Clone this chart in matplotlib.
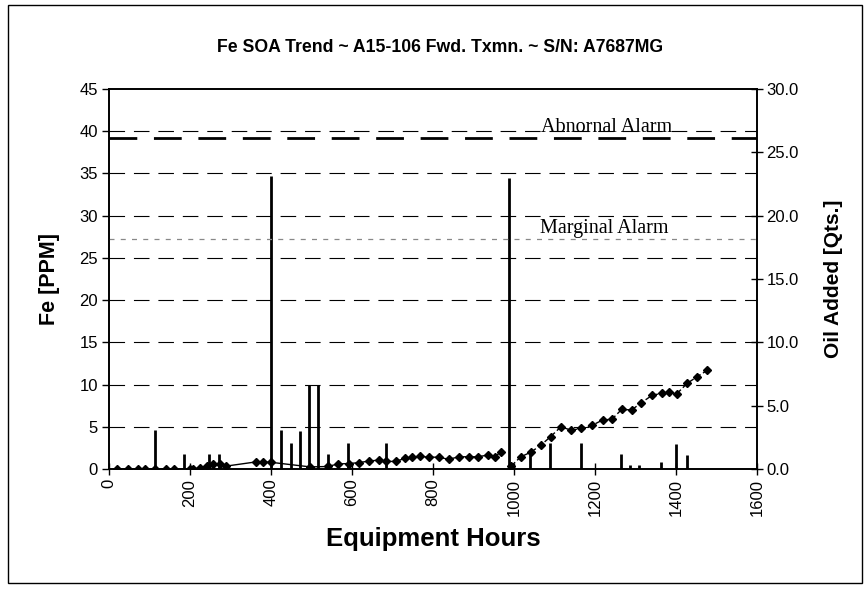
import matplotlib
matplotlib.use("Agg")
import matplotlib.pyplot as plt
from matplotlib import font_manager as fm
from matplotlib.patches import Rectangle

# ---------------- data ----------------
fe_hours_1 = [20, 47, 72, 90, 113, 141, 160, 199, 208, 224, 241, 257, 274, 290,
              364, 380, 399, 497, 541, 565, 592, 617, 642, 666, 685, 708, 730,
              749, 767, 790, 814, 839, 864, 888, 911, 935, 952, 968]
fe_ppm_1 = [0, 0, 0, 0, 0, 0, 0, 0, 0, 0.1, 0.35, 0.6, 0.65, 0.35,
            0.85, 0.8, 0.8, 0.25, 0.3, 0.6, 0.65, 0.75, 0.95, 1.05, 0.9, 0.9, 1.25,
            1.4, 1.5, 1.4, 1.4, 1.15, 1.45, 1.45, 1.45, 1.65, 1.4, 2.05]

fe_hours_2 = [993, 1017, 1042, 1067, 1091, 1116, 1141, 1165, 1194, 1219, 1242,
              1266, 1291, 1313, 1342, 1365, 1383, 1402, 1428, 1453, 1478]
fe_ppm_2 = [0.35, 1.45, 2.0, 2.85, 3.85, 5.0, 4.6, 4.8, 5.2, 5.8, 5.9,
            7.05, 7.0, 7.8, 8.75, 8.95, 9.1, 8.9, 10.15, 10.95, 11.7]

oil_hours = [113, 185, 247, 271, 399, 424, 449, 471, 493, 515, 540, 589, 685,
             989, 1040, 1090, 1166, 1265, 1287, 1309, 1363, 1400, 1428]
oil_qts = [3.1, 1.2, 1.2, 1.2, 23.1, 3.1, 2.05, 3.0, 6.6, 6.6, 1.2, 2.05, 2.05,
           23.0, 1.2, 2.05, 2.05, 1.2, 0.3, 0.3, 0.55, 2.0, 1.1]

abnormal_alarm = 39.2
marginal_alarm = 27.2

title = "Fe SOA Trend ~ A15-106 Fwd. Txmn. ~ S/N: A7687MG"
x_label = "Equipment Hours"
y_label = "Fe [PPM]"
y2_label = "Oil Added [Qts.]"
x_ticks = list(range(0, 1601, 200))
y_ticks = list(range(0, 46, 5))
y2_ticks = [0, 5, 10, 15, 20, 25, 30]

# ---------------- fonts ----------------
names = {f.name for f in fm.fontManager.ttflist}
sans = "Liberation Sans" if "Liberation Sans" in names else "DejaVu Sans"
serif = "Liberation Serif" if "Liberation Serif" in names else "DejaVu Serif"
plt.rcParams["font.family"] = [sans, "DejaVu Sans"]

fig = plt.figure(figsize=(8.68, 5.89), dpi=100)
ax = fig.add_axes([0.1256, 0.2037, 0.872 - 0.1256, 0.849 - 0.2037])
ax2 = ax.twinx()

# grid lines
for v in y_ticks[1:-1]:
    ax.axhline(v, color="black", lw=0.8, ls=(0, (14, 8)), zorder=1)

# alarms
ax.axhline(abnormal_alarm, color="black", lw=2.0, ls=(0, (10, 6)), zorder=2)
ax.axhline(marginal_alarm, color="#888888", lw=0.9, ls=(0, (4, 5)), zorder=2)
ax.text(1228, 39.85, "Abnornal Alarm", family=serif, fontsize=14.5,
        ha="center", va="baseline", zorder=3)
ax.text(1224, 28.0, "Marginal Alarm", family=serif, fontsize=14.5,
        ha="center", va="baseline", zorder=3)

# Fe series
ax.plot(fe_hours_1, fe_ppm_1, color="black", lw=1.0, marker="D", ms=4, zorder=4)
ax.plot(fe_hours_2, fe_ppm_2, color="black", lw=1.0, ls=(0, (4, 2)), marker="D",
        ms=4, zorder=4)

# oil added bars
ax2.vlines(oil_hours, 0, oil_qts, color="black", lw=2.0, zorder=3)

ax.set_xlim(0, 1600)
ax.set_ylim(0, 45)
ax2.set_ylim(0, 30)
ax.set_xticks(x_ticks)
ax.set_xticklabels([str(t) for t in x_ticks], rotation=90, fontsize=12)
ax.set_yticks(y_ticks)
ax.set_yticklabels([str(t) for t in y_ticks], fontsize=12)
ax2.set_yticks(y2_ticks)
ax2.set_yticklabels(["%.1f" % t for t in y2_ticks], fontsize=12)

ax.tick_params(axis="x", direction="inout", length=8, width=1, pad=3)
ax.tick_params(axis="y", direction="out", length=5, width=1, pad=3)
ax2.tick_params(axis="y", direction="inout", length=8, width=1, pad=3)

for sp in ax.spines.values():
    sp.set_linewidth(1.2)
for sp in ax2.spines.values():
    sp.set_linewidth(1.2)
ax.set_zorder(ax2.get_zorder() + 1)
ax.patch.set_visible(False)

ax.set_xlabel(x_label, fontsize=18.5, fontweight="bold", labelpad=8)
ax.set_ylabel(y_label, fontsize=15.5, fontweight="bold", labelpad=14)
ax2.set_ylabel(y2_label, fontsize=15, fontweight="bold", labelpad=18)

fig.text(0.507, 0.92, title, fontsize=12.7,
         fontweight="bold", ha="center", va="center")

fig.patches.append(Rectangle((0.0092, 0.0102), 0.9838, 0.9813, transform=fig.transFigure,
                             fill=False, edgecolor="black", lw=1.0))

fig.savefig("out.png", dpi=100)
